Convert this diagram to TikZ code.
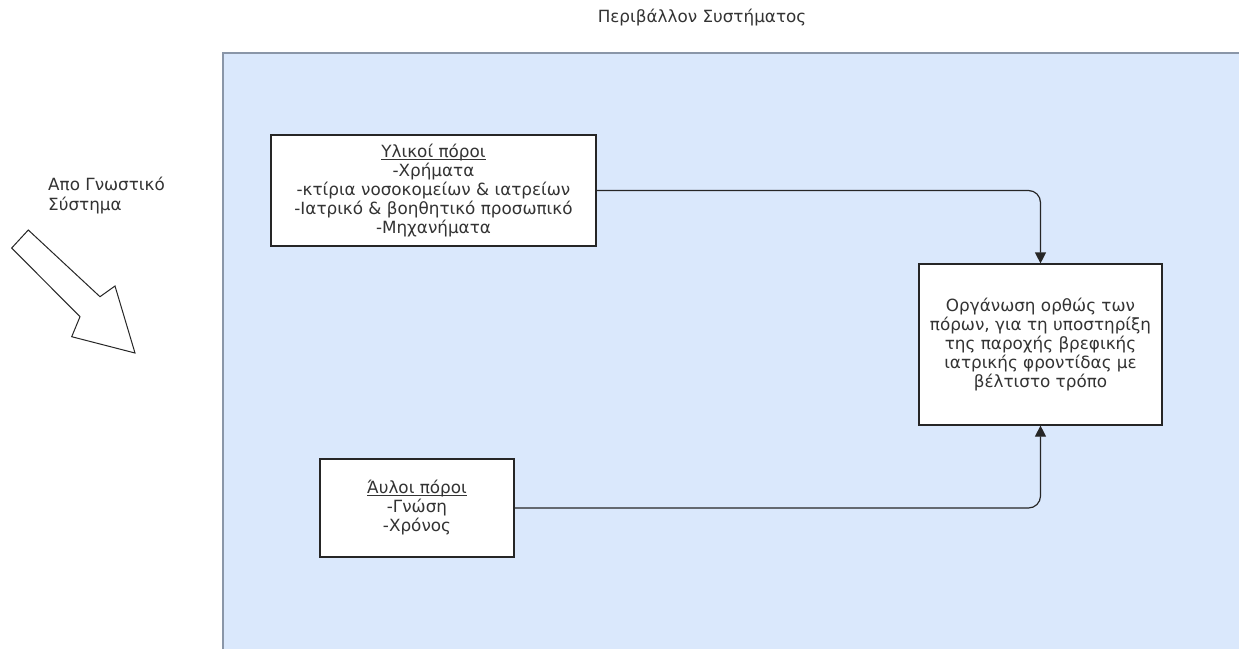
\documentclass[tikz,border=0pt]{standalone}
\usepackage{fontspec}
\setmainfont{DejaVu Sans}
\usetikzlibrary{arrows.meta}
\definecolor{envfill}{HTML}{DAE8FC}
\definecolor{envline}{HTML}{8A96A8}
\definecolor{txt}{HTML}{333333}
% underline drawn just below the baseline, crossing descenders
\newcommand\baseul[1]{\setbox0\hbox{#1}\rlap{\rule[-2.2pt]{\wd0}{0.8pt}}\box0}
\begin{document}
\begin{tikzpicture}[x=1pt,y=-1pt,
  box/.style={draw=black!85,fill=white,line width=1.2pt,align=center,
    text=txt,font=\fontsize{16.8}{19}\selectfont,inner sep=0pt},
  lbl/.style={text=txt,font=\fontsize{16.8}{20}\selectfont,inner sep=0pt},
  link/.style={draw=black!85,line width=1.2pt,rounded corners=12pt,
    -{Triangle[length=11pt,width=11pt]}}]
\useasboundingbox (0,0) rectangle (1239,649);
\fill[white] (0,0) rectangle (1239,649);
% system environment area
\fill[envfill] (223,53) rectangle (1239,649);
\draw[envline,line width=1.2pt] (223,649) -- (223,53) -- (1239,53);
\node[lbl] (env) at (702,18) {Περιβάλλον Συστήματος};
% input from the cognitive system
\node[lbl,anchor=north west,align=left] (src) at (48,177) {Απο Γνωστικό\\Σύστημα};
\draw[black!85,line width=1pt,fill=white,line join=miter]
  (11.7,248) -- (28.3,230) -- (100,296.7) -- (115,286) -- (135,353)
  -- (71.7,336.7) -- (80,316.7) -- cycle;
% resources
\node[box,minimum width=325pt,minimum height=111pt] (mat) at (433.5,190.5)
  {\baseul{Υλικοί πόροι}\\-Χρήματα\\-κτίρια νοσοκομείων \& ιατρείων\\-Ιατρικό \& βοηθητικό προσωπικό\\-Μηχανήματα};
\node[box,minimum width=194pt,minimum height=98pt] (imm) at (417,508)
  {\baseul{Άυλοι πόροι}\\-Γνώση\\-Χρόνος};
\node[box,minimum width=243pt,minimum height=161pt] (goal) at (1040.5,344.5)
  {Οργάνωση ορθώς των\\πόρων, για τη υποστηρίξη\\της παροχής βρεφικής\\ιατρικής φροντίδας με\\βέλτιστο τρόπο};
\draw[link] (mat.east) -| (goal.north);
\draw[link] (imm.east) -| (goal.south);
\end{tikzpicture}
\end{document}
